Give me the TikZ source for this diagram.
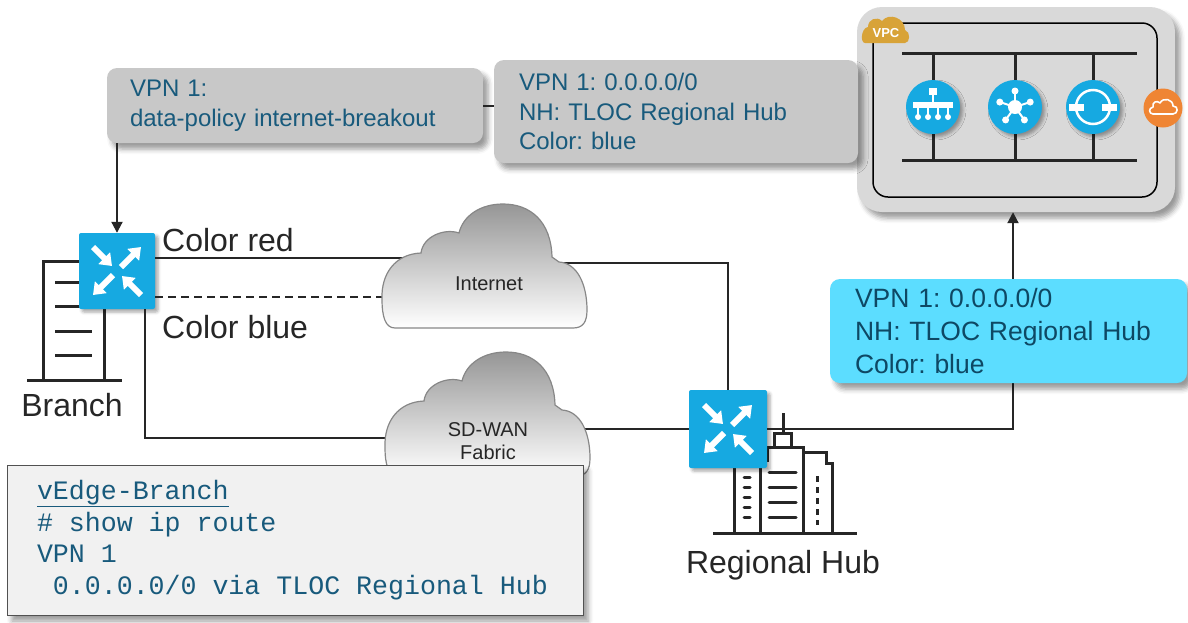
\documentclass[tikz,border=0pt]{standalone}
\usepackage{fontspec}
\setmainfont{Liberation Sans}
\setmonofont{Liberation Mono}
\frenchspacing
\usetikzlibrary{arrows.meta,positioning,calc,shadows.blur}
\definecolor{SWblue}{RGB}{22,169,225}
\definecolor{SWcyan}{RGB}{92,221,255}
\definecolor{SWgray}{RGB}{200,200,200}
\definecolor{SWvpc}{RGB}{217,217,217}
\definecolor{SWcode}{RGB}{241,241,241}
\definecolor{SWteal}{RGB}{24,90,124}
\definecolor{SWdeep}{RGB}{14,72,100}
\definecolor{SWink}{RGB}{38,38,38}
\definecolor{SWgold}{RGB}{216,163,56}
\definecolor{SWorange}{RGB}{239,133,52}
\definecolor{SWcloud}{RGB}{150,150,150}
\definecolor{SWrim}{RGB}{135,135,135}
% one character cell of the cli listing
\newcommand{\cligap}{\hspace*{0.6em}}
\tikzset{
  softshadow/.style={blur shadow={shadow xshift=5pt,shadow yshift=-6pt,
                     shadow blur radius=5pt,shadow opacity=40}},
  infobox/.style={rounded corners=10pt,fill=SWgray,text=SWteal,align=left,
                  inner ysep=0pt,softshadow,font=\fontsize{24}{29.5}\selectfont},
  bluebox/.style={infobox,fill=SWcyan,text=SWdeep,font=\fontsize{26.5}{33}\selectfont},
  codebox/.style={draw=SWink!80,line width=1pt,fill=SWcode,softshadow,align=left,
                  text=SWteal,minimum width=576pt,minimum height=150pt,inner ysep=0pt,
                  font=\ttfamily\fontsize{26.6}{31.6}\selectfont},
  router/.style={rounded corners=2pt,fill=SWblue,minimum size=76pt,inner sep=0pt,
                 blur shadow={shadow xshift=3pt,shadow yshift=-3pt,
                 shadow blur radius=3pt,shadow opacity=35}},
  rarrow/.style={white,line width=6pt,-{Triangle[length=11pt,width=16pt]}},
  vpcbox/.style={rounded corners=25pt,fill=SWvpc,minimum width=318pt,
                 minimum height=205pt,inner sep=0pt,softshadow},
  svc/.style={circle,fill=SWblue,minimum size=54pt,inner sep=0pt,
              blur shadow={shadow xshift=3pt,shadow yshift=-3pt,
              shadow blur radius=3pt,shadow opacity=35}},
  lbl/.style={text=SWink,font=\fontsize{32}{38}\selectfont,inner sep=0pt},
  cloudtxt/.style={text=SWink,font=\fontsize{20}{23}\selectfont,align=center,inner sep=0pt},
  cloudbox/.style={minimum width=206pt,minimum height=125pt,inner sep=0pt},
  link/.style={draw=SWink,line width=2pt},
  linkarrow/.style={link,-{Triangle[length=11pt,width=11pt]}},
  glyph/.style={draw=SWink,line width=3pt},
  bus/.style={draw=black!85,line width=3pt},
  cloudpic/.pic={
    \path[draw=SWrim,line width=1.2pt,top color=SWcloud,bottom color=white]
      (-90,62) -- (88,62) .. controls (98,62) and (102,56) .. (102,44)
      .. controls (102,18) and (92,-3) .. (74,-4) -- (67,-9)
      .. controls (66,-45) and (45,-62) .. (18,-62)
      .. controls (-5,-62) and (-22,-50) .. (-26,-33)
      .. controls (-40,-38) and (-62,-30) .. (-64,-13)
      .. controls (-90,-12) and (-104,8) .. (-103,33)
      .. controls (-103,50) and (-100,62) .. (-90,62) -- cycle;
  }
}
% white arrows of the router symbol
\newcommand{\routerglyph}[1]{%
  \begin{scope}[shift={(#1.center)}]
    \foreach \ax/\ay/\bx/\by in {-24/-24/-5/-5,24/24/5/5,4/-4/24/-24,-4/4/-24/24}
      \draw[rarrow] (\ax,\ay) -- (\bx,\by);
  \end{scope}}

\begin{document}
\begin{tikzpicture}[x=1pt,y=-1pt]
  \useasboundingbox (0,0) rectangle (1188,622);

  % cloud VPC with the service chain
  \node[vpcbox] (vpc) at (1016,109.5) {};
  \node[draw=black,line width=1.5pt,rounded corners=15pt,minimum width=284pt,
        minimum height=174pt,inner sep=0pt] (vpcframe) at (1015,110) {};
  \draw[bus] (902,53) -- (1137,53);
  \draw[bus] (902,160) -- (1137,160);
  \foreach \x in {933,1015,1093}
    \draw[bus] (\x,53) -- (\x,160);
  \node[svc] (lan) at (933,107) {};
  \node[svc] (hubsvc) at (1015,107) {};
  \node[svc] (ring) at (1093,107) {};
  \node[circle,fill=SWorange,minimum size=39pt,inner sep=0pt] (inetgw) at (1163,108) {};
  \begin{scope}[shift={(lan.center)},white]
    \fill (-4,-19) rectangle (4,-12);
    \draw[line width=2pt] (0,-12) -- (0,-5);
    \fill (-20,-5) rectangle (20,1);
    \foreach \x in {-15,-5,5,15} {
      \draw[line width=2pt] (\x,1) -- (\x,9);
      \fill (\x,10) circle (3pt);
    }
  \end{scope}
  \begin{scope}[shift={(hubsvc.center)},white]
    \foreach \a in {-90,-18,54,126,198} {
      \draw[line width=2pt] (0,0) -- (\a:16);
      \fill (\a:16) circle (3.5pt);
    }
    \fill (0,0) circle (7pt);
  \end{scope}
  \begin{scope}[shift={(ring.center)},white]
    \draw[line width=2.5pt] (0,0) circle (17pt);
    \fill (-24,-3.5) rectangle (-9,3.5);
    \fill (9,-3.5) rectangle (24,3.5);
  \end{scope}
  \begin{scope}[shift={(inetgw.center)}]
    \draw[white,line width=1.6pt,line join=round]
      (-10,6) -- (10,6) .. controls (15,6) and (16,-2) .. (10,-2)
      .. controls (10,-9) and (0,-11) .. (-3,-5)
      .. controls (-6,-8) and (-11,-6) .. (-10,-1)
      .. controls (-15,0) and (-14,6) .. (-10,6) -- cycle;
  \end{scope}
  \fill[SWgold] (865,43) -- (905,43) .. controls (910,43) and (911,32) .. (905,30)
    .. controls (905,18) and (889,12) .. (882,21)
    .. controls (877,16) and (868,19) .. (868,27)
    .. controls (861,28) and (860,43) .. (865,43) -- cycle;
  \node[text=white,font=\bfseries\fontsize{13}{14}\selectfont,inner sep=0pt] (vpctag) at (886,33) {VPC};

  % policy and route boxes
  \node[infobox,text width=330pt,inner xsep=23pt,minimum height=75pt] (pol) at (295,105.5)
    {VPN 1:\\data-policy internet-breakout};
  \draw[link] (pol.east) -- (pol.east -| vpc.west);
  \node[infobox,text width=314pt,inner xsep=25pt,minimum height=103pt] (nhgray) at (676,111.5)
    {VPN 1: 0.0.0.0/0\\NH: TLOC Regional Hub\\Color: blue};

  % branch building
  \draw[glyph] (43,380) -- (43,261) -- (104,261) -- (104,380);
  \draw[glyph] (27,380) -- (122,380);
  \foreach \y in {282,306,331,355}
    \draw[glyph] (55,\y) -- (92,\y);

  % regional hub buildings
  \draw[glyph] (713,533) -- (857,533);
  \draw[glyph] (734,462) -- (734,533);
  \draw[glyph] (760,460) -- (760,533);
  \draw[glyph] (760,460) -- (767,460) -- (767,447) -- (803,447) -- (803,533);
  \draw[glyph] (774,433) rectangle (791,447);
  \draw[glyph] (783,413) -- (783,433);
  \draw[glyph] (803,452) -- (826,452) -- (826,463) -- (832,463) -- (832,533);
  \foreach \y in {472,487,502,517}
    \draw[glyph,line cap=round] (769,\y) -- (796,\y);
  \foreach \y in {477,487,497,507,517}
    \draw[glyph,line cap=round] (744,\y) -- (750,\y);
  \draw[glyph,dash pattern=on 6pt off 5pt] (817,476) -- (817,525);

  % edge routers
  \node[router] (rbr) at (117,271) {};
  \routerglyph{rbr}
  \node[router,minimum size=78pt] (hub) at (728,429) {};
  \routerglyph{hub}

  % transports
  \node[cloudbox] (inet) at (485,266) {};
  \node[cloudbox] (sdw) at (488,414) {};
  \draw[linkarrow] (rbr.north |- pol.south) -- (rbr.north);
  \draw[link] ([yshift=13pt]rbr.east) -| (inet.center);
  \draw[link,dash pattern=on 8pt off 5pt] ([yshift=-26pt]rbr.east) -| (inet.center);
  \draw[link] ([yshift=3pt]inet.center) -| (hub.north);
  \draw[link] ([xshift=28pt]rbr.south) |- ([yshift=-24pt]sdw.center);
  \draw[link] (sdw.center) |- (hub.west);
  \draw[linkarrow] (hub.east) -| ([xshift=-3pt]vpc.south);
  \pic at (inet) {cloudpic};
  \pic at (sdw) {cloudpic};
  \node[cloudtxt] (inettxt) at (489,284) {Internet};
  \node[cloudtxt] (sdwtxt) at (488,441.5) {SD-WAN\\Fabric};

  % labels
  \node[lbl,anchor=base west] (red) at (162,251) {Color red};
  \node[lbl,anchor=base west] (blue) at (162,338) {Color blue};
  \node[lbl,anchor=base] (brname) at (72,416) {Branch};
  \node[lbl,anchor=base] (hubname) at (783,573) {Regional Hub};

  % route at the hub and branch table
  \node[bluebox,text width=307pt,inner xsep=25pt,minimum height=104pt] (nhblue) at (1008.5,331)
    {VPN 1: 0.0.0.0/0\\NH: TLOC Regional Hub\\Color: blue};
  \node[codebox,text width=516pt,inner xsep=30pt] (cli) at (295,540)
    {\underline{vEdge-Branch}\\
     \#\cligap show\cligap ip\cligap route\\
     VPN\cligap 1\\
     \cligap 0.0.0.0/0\cligap via\cligap TLOC\cligap Regional\cligap Hub};
\end{tikzpicture}
\end{document}
